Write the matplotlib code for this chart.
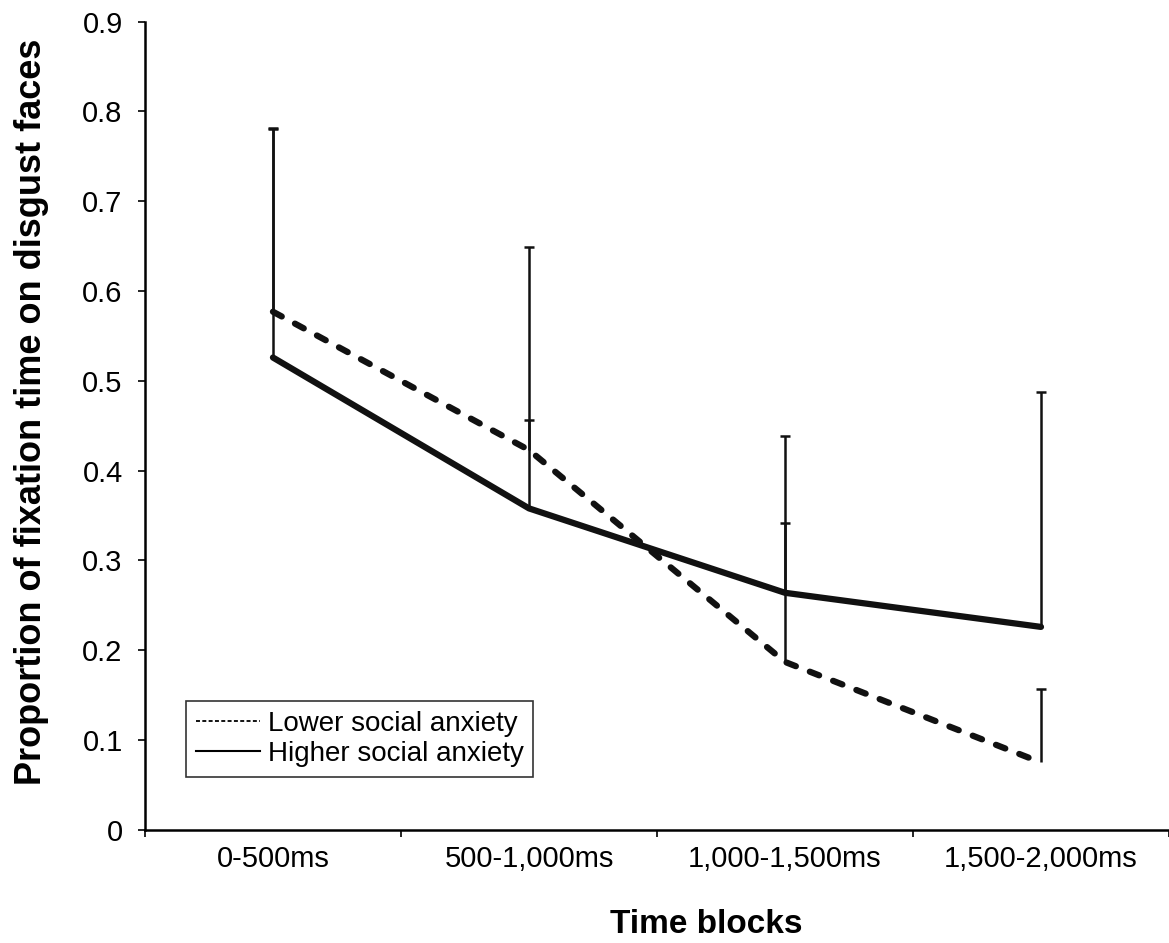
import numpy as np
import matplotlib.pyplot as plt
from matplotlib.lines import Line2D

# Data
blocks = ['0-500ms', '500-1,000ms', '1,000-1,500ms', '1,500-2,000ms']
lower_mean = [0.577, 0.423, 0.187, 0.075]
lower_err = [0.203, 0.226, 0.155, 0.082]
higher_mean = [0.526, 0.358, 0.264, 0.226]
higher_err = [0.256, 0.098, 0.175, 0.262]

plt.rcParams['font.family'] = ['Liberation Sans', 'DejaVu Sans']

fig = plt.figure(figsize=(11.69, 9.43), dpi=100)
ax = fig.add_axes([0.124, 0.12, 0.876, 0.857])

x = np.arange(len(blocks)) + 0.5
zeros = np.zeros(len(blocks))

# Upward-only error bars (hide the cap drawn at the mean)
for mean, err in [(lower_mean, lower_err), (higher_mean, higher_err)]:
    eb = ax.errorbar(x, mean, yerr=[zeros, err], fmt='none', ecolor='#111111',
                     elinewidth=1.8, capsize=3.8, capthick=1.8)
    eb[1][0].set_visible(False)

ax.plot(x, lower_mean, color='#111111', lw=4.5, ls=(0, (1.6, 2.4)),
        dash_capstyle='round', solid_capstyle='round')
ax.plot(x, higher_mean, color='#111111', lw=4.5, solid_capstyle='round')

ax.set_xlim(0, 4)
ax.set_ylim(0, 0.9)
ax.set_yticks(np.arange(0, 0.91, 0.1))
ax.set_yticklabels(['0'] + ['%.1f' % v for v in np.arange(0.1, 0.91, 0.1)])
ax.set_xticks(np.arange(0, 5))
ax.set_xticklabels([])
ax.set_xticks(x, minor=True)
ax.set_xticklabels(blocks, minor=True)
ax.tick_params(axis='x', which='minor', length=0, pad=11, labelsize=21)
ax.tick_params(axis='x', which='major', length=5, width=1.2, direction='out')
ax.tick_params(axis='y', length=5, width=1.2, direction='out', labelsize=21, pad=11)

for side in ['top', 'right']:
    ax.spines[side].set_visible(False)
for side in ['left', 'bottom']:
    ax.spines[side].set_linewidth(1.8)

ax.set_xlabel('Time blocks', fontsize=24, fontweight='bold')
ax.xaxis.set_label_coords(0.548, -0.098)
ax.set_ylabel('Proportion of fixation time on disgust faces', fontsize=26,
              fontweight='bold')
ax.yaxis.set_label_coords(-0.094, 0.517)

handles = [Line2D([], [], color='black', lw=1.3, ls=(0, (2.2, 1.3))),
           Line2D([], [], color='black', lw=1.5)]
leg = ax.legend(handles, ['Lower social anxiety', 'Higher social anxiety'],
                loc='lower left', bbox_to_anchor=(0.04, 0.066), fontsize=20,
                frameon=True, fancybox=False, handlelength=2.3, handletextpad=0.3,
                borderpad=0.35, labelspacing=0.15, borderaxespad=0)
leg.get_frame().set_edgecolor('black')
leg.get_frame().set_linewidth(1.2)

fig.savefig('out.png', dpi=100)
